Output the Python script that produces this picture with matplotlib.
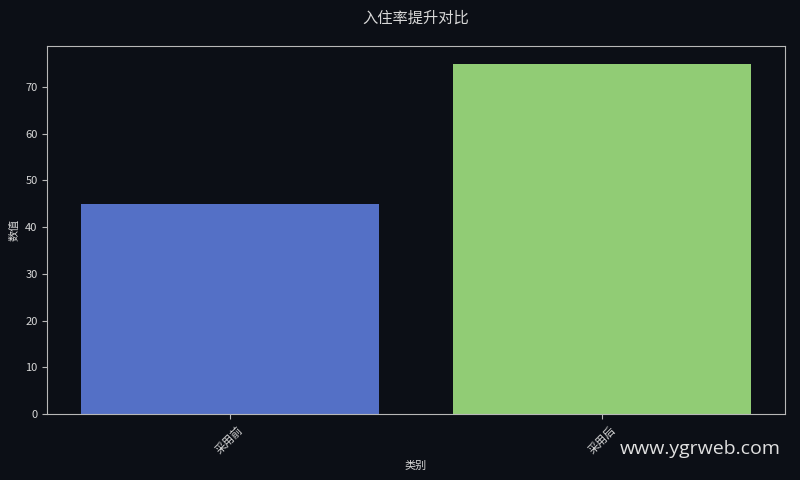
import matplotlib
matplotlib.use('Agg')
import matplotlib.pyplot as plt

plt.rcParams['font.family'] = ['Noto Sans CJK SC', 'DejaVu Sans']

# data
categories = ['采用前', '采用后']
values = [45, 75]
bar_colors = ['#5470c6', '#91cc75']

bg = '#0c0f16'
fg = '#d8d8d8'

fig, ax = plt.subplots(figsize=(8, 4.8), dpi=100)
fig.patch.set_facecolor(bg)
ax.set_facecolor(bg)

ax.bar(categories, values, color=bar_colors, width=0.8)
ax.set_ylim(0, max(values) * 1.05)

ax.set_title('入住率提升对比', color=fg, fontsize=11, pad=17)
ax.set_xlabel('类别', color=fg, fontsize=8)
ax.set_ylabel('数值', color=fg, fontsize=8)

for s in ax.spines.values():
    s.set_color('#b8b8b8')
ax.tick_params(colors='#b8b8b8', labelcolor=fg, labelsize=8)
plt.setp(ax.get_xticklabels(), rotation=45)

fig.subplots_adjust(left=0.059, right=0.981, top=0.904, bottom=0.137)

fig.text(0.976, 0.065, 'www.ygrweb.com', ha='right', va='center',
         fontsize=14, color='#e0e0e0', family='Open Sans')

fig.savefig('out.png', facecolor=bg)
